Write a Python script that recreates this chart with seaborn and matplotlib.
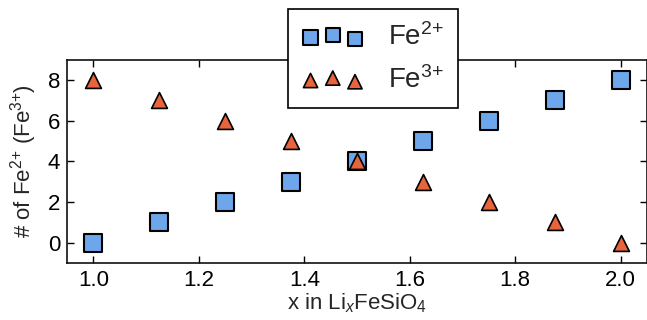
import numpy as np
import pandas as pd
import seaborn as sns
import matplotlib.pyplot as plt
from matplotlib.collections import PathCollection
from matplotlib.legend_handler import HandlerPathCollection

# ---------- data ----------
x_li = [1.0, 1.125, 1.25, 1.375, 1.5, 1.625, 1.75, 1.875, 2.0]
fe2 = [0, 1, 2, 3, 4, 5, 6, 7, 8]
fe3 = [8, 7, 6, 5, 4, 3, 2, 1, 0]

blue = "#6ea6ec"
orange = "#e8643c"

sns.set_style("ticks", {"xtick.direction": "in", "ytick.direction": "in"})
plt.rcParams["font.family"] = ["Liberation Sans", "DejaVu Sans"]
plt.rcParams["mathtext.fontset"] = "custom"
plt.rcParams["mathtext.rm"] = "Liberation Sans"
plt.rcParams["mathtext.it"] = "Liberation Sans:italic"

fig = plt.figure(figsize=(6.47, 3.2), dpi=100)
ax = fig.add_axes([67 / 647, 57 / 320, 580 / 647, 203.5 / 320])

sns.scatterplot(x=x_li, y=fe2, marker="s", s=150, color=blue,
                edgecolor="black", linewidth=1.5, label="Fe$^{2{+}}$", ax=ax, zorder=3)
sns.scatterplot(x=x_li, y=fe3, marker="^", s=130, color=orange,
                edgecolor="black", linewidth=1.2, label="Fe$^{3{+}}$", ax=ax, zorder=4)

ax.set_xlim(0.95, 2.05)
ax.set_ylim(-1, 9)
ax.set_xticks([1.0, 1.2, 1.4, 1.6, 1.8, 2.0])
ax.set_yticks([0, 2, 4, 6, 8])
ax.tick_params(top=True, right=True, length=5, width=1, labelsize=16,
               colors="black", pad=5)
for sp in ax.spines.values():
    sp.set_color("#111111")
    sp.set_linewidth(1.2)

ax.set_xlabel("x in Li$_x$FeSiO$_4$", fontsize=16, labelpad=0)
ax.set_ylabel("# of Fe$^{2{+}}$ (Fe$^{3{+}}$)", fontsize=16, labelpad=6)

leg = ax.legend(loc="upper center", bbox_to_anchor=(0.528, 1.248), scatterpoints=3,
                handler_map={PathCollection: HandlerPathCollection(sizes=[105, 105, 105])},
                fontsize=20, frameon=True, fancybox=False, handlelength=2.2,
                framealpha=1, edgecolor="black", handletextpad=0.9,
                borderpad=0.5, labelspacing=0.55, borderaxespad=0)
leg.get_frame().set_linewidth(1.2)
leg.set_zorder(10)

plt.savefig("out.png", dpi=100)
